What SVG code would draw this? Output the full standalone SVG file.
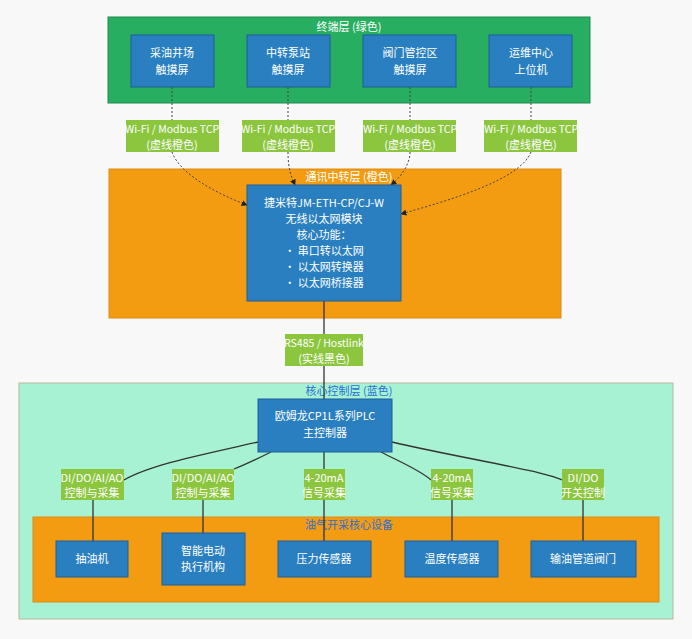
<svg xmlns="http://www.w3.org/2000/svg" width="692" height="639" viewBox="0 0 692 639">
<style>
text{font-family:"Noto Sans CJK SC","Noto Sans",sans-serif;font-size:11px;fill:#fff;text-anchor:middle}
.sm{font-size:10.5px}
.node{fill:#2a7fc0;stroke:#1f5f99;stroke-width:1}
.lbl{fill:#8cc63f}
.dash{fill:none;stroke:#444;stroke-width:1;stroke-dasharray:2,2}
.solid{fill:none;stroke:#333;stroke-width:1.3}
</style>
<defs><marker id="ah" viewBox="0 0 10 10" refX="9" refY="5" markerWidth="6" markerHeight="6" orient="auto"><path d="M0,0L10,5L0,10z" fill="#222"/></marker></defs>
<rect width="692" height="639" fill="#f8f8f8"/>
<g id="layer-terminal"><rect x="108" y="17" width="482" height="86" fill="#27ae60" stroke="#1e8a4c"/><text x="349" y="31">终端层 (绿色)</text></g>
<g id="layer-comm"><rect x="109" y="169" width="452" height="149" fill="#f39c12" stroke="#e08a10"/><text x="349" y="181">通讯中转层 (橙色)</text></g>
<g id="layer-core"><rect x="19" y="383" width="654" height="236" fill="#a6f2d2" stroke="#b8b89a"/><text x="349" y="395" style="fill:#2a6fd6">核心控制层 (蓝色)</text></g>
<g id="layer-equip"><rect x="33" y="517" width="626" height="85" fill="#f39c12" stroke="#e08a10"/><text x="349" y="529" style="fill:#2a6fd6">油气开采核心设备</text></g>
<g id="connectors">
<path class="dash" d="M172,87V120M172,152C180,175 220,195 247,205" marker-end="url(#ah)"/>
<path class="dash" d="M288,87V120M288,152C288,170 292,178 295,185" marker-end="url(#ah)"/>
<path class="dash" d="M410,87V120M410,152C410,165 400,178 391,185" marker-end="url(#ah)"/>
<path class="dash" d="M531,87V120M531,152C520,180 450,200 401,214" marker-end="url(#ah)"/>
<path class="solid" d="M324,301V334M324,366V399"/>
<path class="solid" d="M258,442C200,455 150,465 124,480M93,500V541"/>
<path class="solid" d="M271,452C255,460 242,466 234,469M203,500V533"/>
<path class="solid" d="M324,452V469M324,500V541"/>
<path class="solid" d="M381,452C400,462 420,470 431,480M452,500V541"/>
<path class="solid" d="M392,442C460,458 540,470 562,480M583,500V541"/>
</g>
<g id="n-t1"><rect class="node" x="131" y="35" width="83" height="52"/><text x="172" y="57">采油井场</text><text x="172" y="74">触摸屏</text></g>
<g id="n-t2"><rect class="node" x="247" y="35" width="83" height="52"/><text x="288" y="57">中转泵站</text><text x="288" y="74">触摸屏</text></g>
<g id="n-t3"><rect class="node" x="363" y="35" width="93" height="52"/><text x="410" y="57">阀门管控区</text><text x="410" y="74">触摸屏</text></g>
<g id="n-t4"><rect class="node" x="489" y="35" width="83" height="52"/><text x="531" y="57">运维中心</text><text x="531" y="74">上位机</text></g>
<g id="l-t1"><rect class="lbl" x="126" y="120" width="93" height="32"/><text class="sm" x="172" y="133">Wi-Fi / Modbus TCP</text><text x="172" y="149">(虚线橙色)</text></g>
<g id="l-t2"><rect class="lbl" x="242" y="120" width="93" height="32"/><text class="sm" x="288" y="133">Wi-Fi / Modbus TCP</text><text x="288" y="149">(虚线橙色)</text></g>
<g id="l-t3"><rect class="lbl" x="363" y="120" width="93" height="32"/><text class="sm" x="410" y="133">Wi-Fi / Modbus TCP</text><text x="410" y="149">(虚线橙色)</text></g>
<g id="l-t4"><rect class="lbl" x="484" y="120" width="93" height="32"/><text class="sm" x="531" y="133">Wi-Fi / Modbus TCP</text><text x="531" y="149">(虚线橙色)</text></g>
<g id="n-module"><rect class="node" x="247" y="185" width="154" height="116"/>
<text x="324" y="207">捷米特JM-ETH-CP/CJ-W</text><text x="324" y="223">无线以太网模块</text><text x="324" y="239">核心功能：</text><text x="324" y="255">• 串口转以太网</text><text x="324" y="271">• 以太网转换器</text><text x="324" y="287">• 以太网桥接器</text></g>
<g id="l-rs485"><rect class="lbl" x="285" y="334" width="78" height="32"/><text class="sm" x="324" y="347">RS485 / Hostlink</text><text x="324" y="363">(实线黑色)</text></g>
<g id="n-plc"><rect class="node" x="258" y="399" width="134" height="53"/><text x="325" y="420">欧姆龙CP1L系列PLC</text><text x="325" y="437">主控制器</text></g>
<g id="l-1"><rect class="lbl" x="61" y="469" width="63" height="31"/><text x="92" y="482">DI/DO/AI/AO</text><text x="92" y="497">控制与采集</text></g>
<g id="l-2"><rect class="lbl" x="172" y="469" width="62" height="31"/><text x="203" y="482">DI/DO/AI/AO</text><text x="203" y="497">控制与采集</text></g>
<g id="l-3"><rect class="lbl" x="304" y="469" width="41" height="31"/><text x="324" y="482">4-20mA</text><text x="324" y="497">信号采集</text></g>
<g id="l-4"><rect class="lbl" x="431" y="469" width="42" height="31"/><text x="452" y="482">4-20mA</text><text x="452" y="497">信号采集</text></g>
<g id="l-5"><rect class="lbl" x="562" y="469" width="42" height="31"/><text x="583" y="482">DI/DO</text><text x="583" y="497">开关控制</text></g>
<g id="n-e1"><rect class="node" x="56" y="541" width="72" height="36"/><text x="92" y="563">抽油机</text></g>
<g id="n-e2"><rect class="node" x="162" y="533" width="83" height="52"/><text x="203" y="555">智能电动</text><text x="203" y="571">执行机构</text></g>
<g id="n-e3"><rect class="node" x="278" y="541" width="93" height="36"/><text x="324" y="563">压力传感器</text></g>
<g id="n-e4"><rect class="node" x="405" y="541" width="93" height="36"/><text x="452" y="563">温度传感器</text></g>
<g id="n-e5"><rect class="node" x="531" y="541" width="105" height="36"/><text x="583" y="563">输油管道阀门</text></g>
</svg>
